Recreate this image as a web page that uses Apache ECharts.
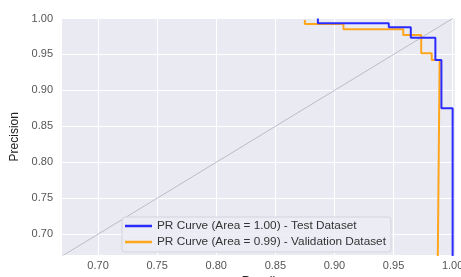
<!DOCTYPE html>
<html>
<head>
<meta charset="utf-8">
<script src="https://cdn.jsdelivr.net/npm/echarts@6/dist/echarts.min.js"></script>
<style>
  html, body { margin:0; padding:0; background:#fff; }
  #chart { width:461px; height:277px; }
</style>
</head>
<body>
<div id="chart"></div>
<script>
// PR curve points: [recall, precision]
const testCurve = [
  [0.886, 1.0], [0.886, 0.9935], [0.946, 0.9935], [0.946, 0.9877],
  [0.9646, 0.9877], [0.9646, 0.9733], [0.9854, 0.9733], [0.9854, 0.9422],
  [0.9905, 0.9422], [0.9905, 0.8753], [1.0, 0.8753], [1.0, 0.5]
];
const valCurve = [
  [0.875, 0.998], [0.875, 0.9923], [0.9076, 0.9923], [0.9076, 0.985],
  [0.9582, 0.985], [0.9582, 0.977], [0.9734, 0.977], [0.9734, 0.9515],
  [0.9823, 0.9515], [0.9823, 0.9422], [0.989, 0.9422], [0.9865, 0.5]
];
const diagonal = [[0, 0], [1, 1]];
const xTicks = [0.70, 0.75, 0.80, 0.85, 0.90, 0.95, 1.00];
const yTicks = [0.70, 0.75, 0.80, 0.85, 0.90, 0.95, 1.00];
const seriesNames = [
  'PR Curve (Area = 1.00) - Test Dataset',
  'PR Curve (Area = 0.99) - Validation Dataset'
];

const chart = echarts.init(document.getElementById('chart'));
const font = 'Liberation Sans, Arial, sans-serif';

chart.setOption({
  animation: false,
  textStyle: { fontFamily: font },
  grid: {
    left: 62, right: 6, top: 18.5, bottom: 22,
    outerBoundsMode: 'none', containLabel: false,
    show: true, backgroundColor: '#eaeaf2', borderWidth: 0
  },
  xAxis: {
    type: 'value', min: 0.6695, max: 1.002,
    name: 'Recall', nameLocation: 'middle', nameGap: 16,
    nameTextStyle: { color: '#222', fontSize: 12 },
    axisLine: { show: false },
    axisTick: { show: false, customValues: xTicks },
    axisLabel: {
      customValues: xTicks, color: '#555', fontSize: 11, margin: 5,
      formatter: v => v.toFixed(2)
    },
    splitLine: { show: true, lineStyle: { color: '#fff', width: 1 } }
  },
  yAxis: {
    type: 'value', min: 0.671, max: 1.0,
    name: 'Precision', nameLocation: 'middle', nameGap: 35,
    nameTextStyle: { color: '#222', fontSize: 12 },
    axisLine: { show: false },
    axisTick: { show: false, customValues: yTicks },
    axisLabel: {
      customValues: yTicks, color: '#555', fontSize: 11, margin: 9,
      formatter: v => v.toFixed(2)
    },
    splitLine: { show: true, lineStyle: { color: '#fff', width: 1 } }
  },
  legend: {
    orient: 'vertical', left: 122, top: 217,
    data: seriesNames,
    icon: 'rect', itemWidth: 27, itemHeight: 2.5, itemGap: 2,
    padding: [2, 5, 3, 3],
    backgroundColor: 'rgba(236,236,244,0.85)',
    borderColor: '#d4d4dc', borderWidth: 1, borderRadius: 3,
    textStyle: { color: '#333', fontSize: 11.8, lineHeight: 14, fontFamily: font }
  },
  series: [
    {
      name: 'diag', type: 'line', data: diagonal, showSymbol: false,
      lineStyle: { color: '#bcbcc4', width: 1 }, silent: true, z: 1
    },
    {
      name: seriesNames[0], type: 'line', data: testCurve, showSymbol: false,
      color: '#2b2bff', lineStyle: { width: 2 }, z: 3
    },
    {
      name: seriesNames[1], type: 'line', data: valCurve, showSymbol: false,
      color: '#ffa51c', lineStyle: { width: 2 }, z: 2
    }
  ]
});
</script>
</body>
</html>
